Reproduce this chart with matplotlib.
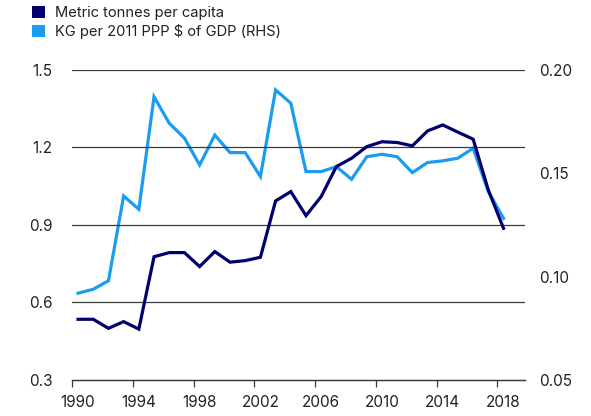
import matplotlib
matplotlib.use("Agg")
import matplotlib.pyplot as plt
from matplotlib.patches import Patch

years = list(range(1990, 2019))
tonnes_per_capita = [0.535, 0.535, 0.50, 0.526, 0.497, 0.777, 0.793, 0.793, 0.739, 0.797,
                     0.756, 0.762, 0.775, 0.993, 1.029, 0.936, 1.01, 1.126, 1.158, 1.203,
                     1.222, 1.219, 1.206, 1.264, 1.287, 1.259, 1.232, 1.035, 0.887]
kg_per_gdp = [0.092, 0.0939, 0.098, 0.139, 0.1326, 0.187, 0.1742, 0.167, 0.154, 0.1685,
              0.160, 0.160, 0.1484, 0.1903, 0.1839, 0.1508, 0.1508, 0.1532, 0.1471, 0.158,
              0.1592, 0.158, 0.1503, 0.1552, 0.156, 0.1573, 0.1621, 0.1411, 0.1282]
tick_years = [1990, 1994, 1998, 2002, 2006, 2010, 2014, 2018]
left_ticks = [0.3, 0.6, 0.9, 1.2, 1.5]
right_ticks = [0.05, 0.10, 0.15, 0.20]
labels = ["Metric tonnes per capita", "KG per 2011 PPP $ of GDP (RHS)"]

dark = "#00006e"
light = "#1a9cf0"
plt.rcParams['font.family'] = ['Inter', 'DejaVu Sans']

fig = plt.figure(figsize=(5.91, 4.16), dpi=100)
ax = fig.add_axes([0.1218, 0.0865, 0.888 - 0.1218, 0.832 - 0.0865])
ax2 = ax.twinx()

for y in left_ticks[1:]:
    ax.axhline(y, color="#3a3a3a", lw=0.9, zorder=0)

ax.plot(years, tonnes_per_capita, color=dark, lw=2.3, zorder=3, solid_joinstyle='miter')
ax2.plot(years, kg_per_gdp, color=light, lw=2.3, zorder=2, solid_joinstyle='miter')
ax.set_zorder(ax2.get_zorder() + 1)
ax.patch.set_visible(False)

ax.set_ylim(0.3, 1.5)
ax2.set_ylim(0.05, 0.20)
ax.set_xlim(1989.6, 2019.4)
ax.set_yticks(left_ticks)
ax.set_yticklabels([f"{v:.1f}" for v in left_ticks])
ax2.set_yticks(right_ticks)
ax2.set_yticklabels([f"{v:.2f}" for v in right_ticks])
# labels centred on the year, tick marks at the category boundary
ax.set_xticks(tick_years)
ax.set_xticklabels([str(y) for y in tick_years])
ax.set_xticks([y - 0.4 for y in tick_years], minor=True)

for a in (ax, ax2):
    for s in ("top", "left", "right"):
        a.spines[s].set_visible(False)
    a.spines["bottom"].set_color("#3a3a3a")
    a.spines["bottom"].set_linewidth(0.9)
ax.tick_params(axis="y", length=0, pad=14, labelsize=11, colors="#222222")
ax2.tick_params(axis="y", length=0, pad=10, labelsize=11, colors="#222222")
ax.tick_params(axis="x", which="major", length=0, pad=11, labelsize=11, labelcolor="#222222")
ax.tick_params(axis="x", which="minor", length=5, width=0.9, color="#3a3a3a")

handles = [Patch(facecolor=dark, edgecolor="none"), Patch(facecolor=light, edgecolor="none")]
fig.legend(handles, labels, loc="upper left", bbox_to_anchor=(0.037, 1.01), frameon=False,
           handlelength=0.87, handleheight=0.87, handletextpad=0.7, labelspacing=0.25,
           fontsize=10.6, labelcolor="#222222", borderaxespad=0.3)

fig.savefig("out.png", dpi=100)
